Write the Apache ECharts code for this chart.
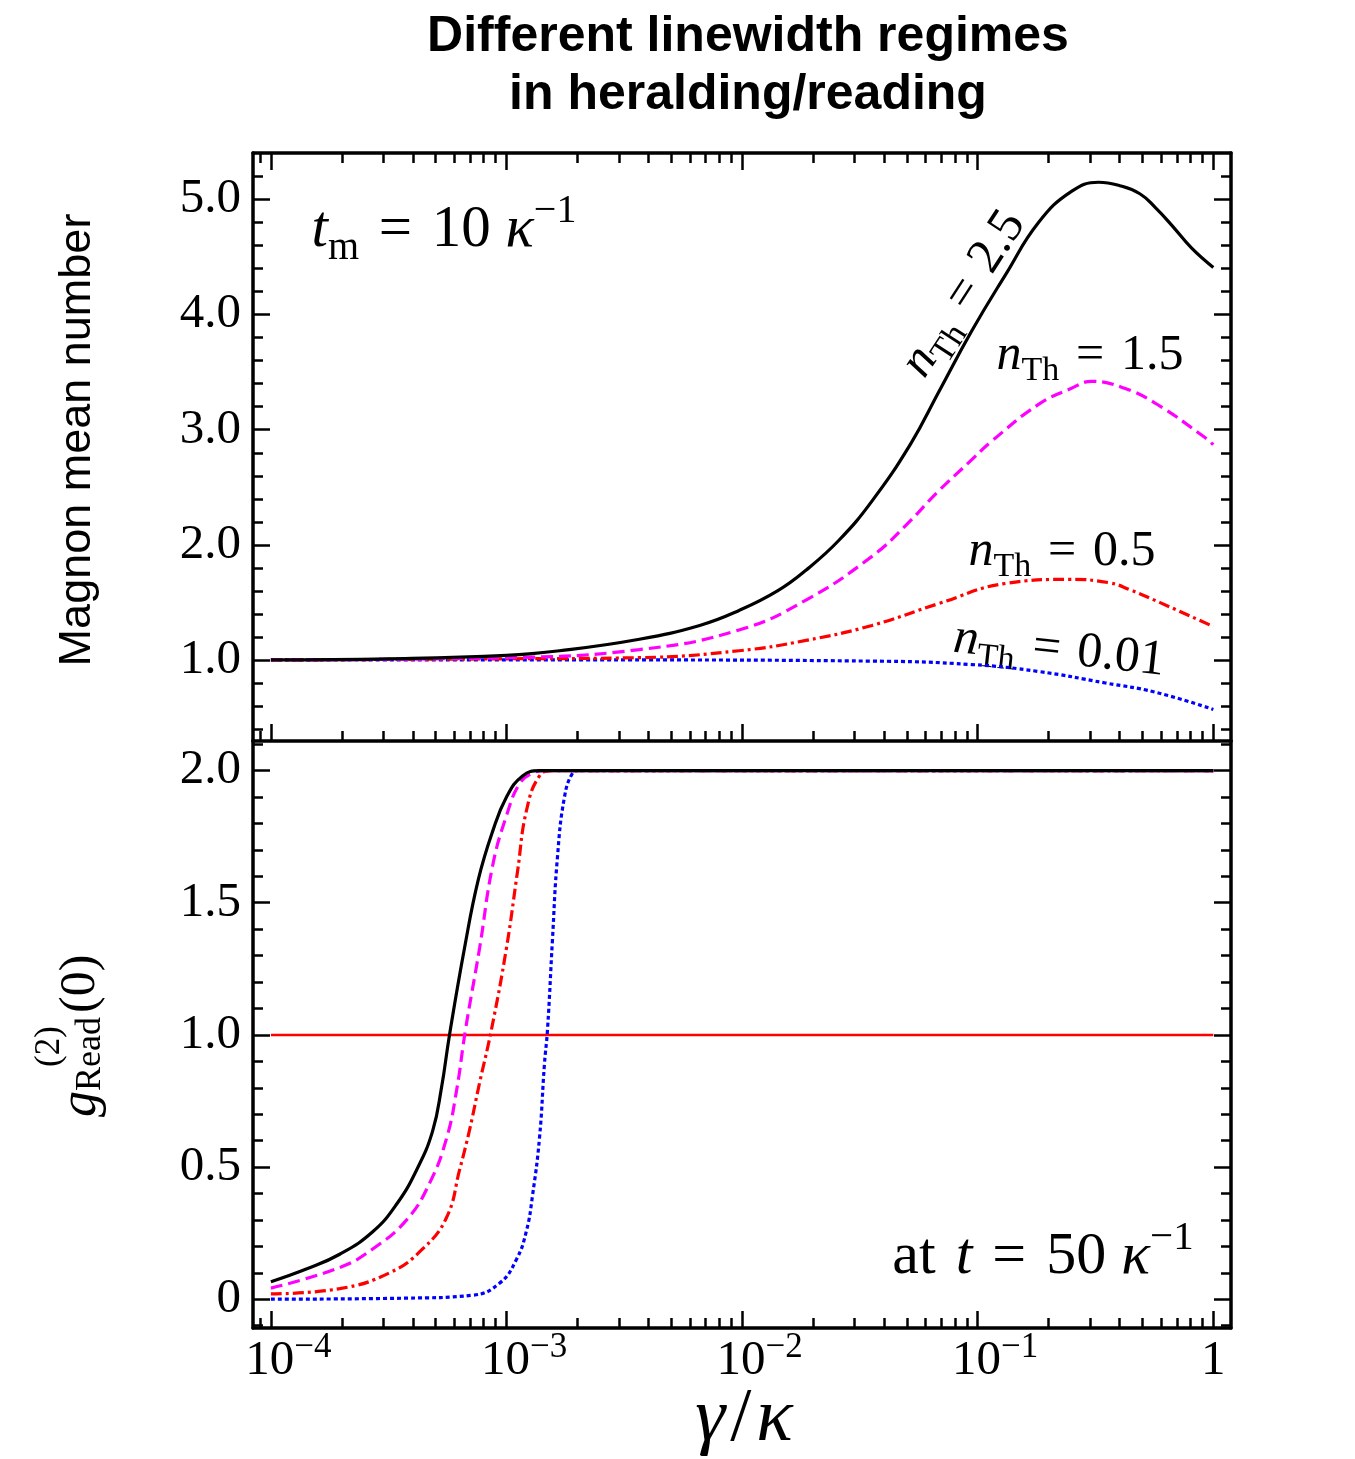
<!DOCTYPE html>
<html>
<head>
<meta charset="utf-8">
<title>Different linewidth regimes</title>
<script src="https://cdn.jsdelivr.net/npm/echarts@6/dist/echarts.min.js"></script>
<style>
html, body { margin: 0; padding: 0; background: #fff; }
#main { width: 1355px; height: 1459px; }
</style>
</head>
<body>
<div id="main"></div>
<script>
'use strict';

var SERIF = '"Liberation Serif", "DejaVu Serif", serif';
var SANS = '"Liberation Sans", Arial, sans-serif';

// x is log10(gamma / kappa) everywhere
var X_MIN = -4.076, X_MAX = 0.075;

// ticks
var xMajorTicks = [-4, -3, -2, -1, 0];
var xTickBase = ['10', '10', '10', '10', '1'];
var xTickExp = ['\u22124', '\u22123', '\u22122', '\u22121', ''];
var yTopTicks = [1, 2, 3, 4, 5];
var yTopLabels = ['1.0', '2.0', '3.0', '4.0', '5.0'];
var yBotTicks = [0, 0.5, 1, 1.5, 2];
var yBotLabels = ['0', '0.5', '1.0', '1.5', '2.0'];

// top panel : magnon mean number, t_m = 10/kappa
var nTh25TopX = [-4, -3.5, -3, -2.775, -2.436, -2.18, -2.013, -1.85, -1.729, -1.589, -1.449, -1.284, -1.165, -1.025, -0.881, -0.742, -0.602, -0.487, -0.397, -0.312, -0.246, -0.178, -0.093, 0];
var nTh25TopY = [1.0, 1.01, 1.04, 1.08, 1.18, 1.30, 1.43, 1.60, 1.78, 2.04, 2.38, 2.88, 3.33, 3.86, 4.35, 4.80, 5.07, 5.15, 5.12, 5.05, 4.93, 4.78, 4.58, 4.41];

var nTh15TopX = [-4, -3, -2.436, -2.013, -1.729, -1.449, -1.305, -1.165, -1.025, -0.941, -0.742, -0.602, -0.517, -0.390, -0.246, -0.034, 0];
var nTh15TopY = [1.0, 1.02, 1.09, 1.26, 1.52, 1.90, 2.17, 2.47, 2.74, 2.90, 3.22, 3.36, 3.42, 3.37, 3.23, 2.93, 2.87];

var nTh05TopX = [-4, -3, -2.436, -2.013, -1.729, -1.449, -1.165, -0.881, -0.61, -0.44, -0.354, -0.228, 0];
var nTh05TopY = [1.0, 1.01, 1.02, 1.08, 1.17, 1.30, 1.49, 1.665, 1.70, 1.67, 1.61, 1.50, 1.29];

var nTh001TopX = [-4, -2.5, -1.449, -1.025, -0.742, -0.458, -0.246, 0];
var nTh001TopY = [1.0, 1.0, 0.99, 0.96, 0.90, 0.80, 0.72, 0.57];

// bottom panel : g2 read at t = 50/kappa
var nTh25BotX = [-4, -3.847, -3.708, -3.568, -3.466, -3.381, -3.314, -3.276, -3.242, -3.178, -3.119, -3.059, -3.0, -2.932, -2.860, 0];
var nTh25BotY = [0.066, 0.115, 0.17, 0.255, 0.36, 0.49, 0.635, 0.80, 1.0, 1.33, 1.59, 1.77, 1.90, 1.98, 2.0, 2.0];

var nTh15BotX = [-4, -3.708, -3.568, -3.424, -3.326, -3.254, -3.212, -3.174, -3.114, -3.059, -3.0, -2.945, -2.890, -2.831, 0];
var nTh15BotY = [0.042, 0.12, 0.19, 0.30, 0.44, 0.61, 0.79, 1.02, 1.33, 1.64, 1.83, 1.95, 1.99, 2.0, 2.0];

var nTh05BotX = [-4, -3.708, -3.496, -3.356, -3.254, -3.199, -3.157, -3.114, -3.064, -3.0, -2.953, -2.915, -2.860, -2.805, 0];
var nTh05BotY = [0.02, 0.04, 0.10, 0.19, 0.31, 0.49, 0.64, 0.82, 1.02, 1.33, 1.62, 1.85, 1.98, 2.0, 2.0];

var nTh001BotX = [-4, -3.424, -3.144, -3.030, -2.958, -2.915, -2.890, -2.860, -2.839, -2.826, -2.805, -2.784, -2.754, -2.720, -2.691, 0];
var nTh001BotY = [0.0, 0.004, 0.015, 0.06, 0.15, 0.26, 0.39, 0.61, 0.89, 1.02, 1.36, 1.67, 1.90, 1.99, 2.0, 2.0];

// g2 = 1 reference
var refX = [-4, 0];
var refY = [1, 1];

// minor tick positions
var xMinorTicks = [];
for (var e = -5; e <= 0; e++) {
	for (var k = 2; k <= 9; k++) {
		var v = e + Math.log10(k);
		if (v > X_MIN && v < X_MAX) xMinorTicks.push(v);
	}
}
function minorList(lo, hi, step, majors) {
	var out = [];
	for (var v = lo; v <= hi + 1e-9; v += step) {
		var r = Math.round(v * 100) / 100;
		if (majors.indexOf(r) < 0) out.push(r);
	}
	return out;
}
var yTopMinor = minorList(0.4, 5.2, 0.2, yTopTicks);
var yBotMinor = minorList(-0.1, 2.1, 0.1, yBotTicks);

var TOP = { min: 0.296, max: 5.404 };
var BOT = { min: -0.109, max: 2.112 };

function xAxisDef(grid, pos, ticks, len, showLine, label) {
	return {
		type: 'value', gridIndex: grid, position: pos, min: X_MIN, max: X_MAX,
		axisLine: { show: showLine, onZero: false, lineStyle: { color: '#000', width: 3.5 } },
		axisTick: { show: true, inside: true, length: len, customValues: ticks, lineStyle: { color: '#000', width: 2.5 } },
		axisLabel: label || { show: false },
		splitLine: { show: false }
	};
}

function yAxisDef(grid, pos, range, ticks, len, showLine, label) {
	return {
		type: 'value', gridIndex: grid, position: pos, min: range.min, max: range.max,
		axisLine: { show: showLine, onZero: false, lineStyle: { color: '#000', width: 3.5 } },
		axisTick: { show: true, inside: true, length: len, customValues: ticks, lineStyle: { color: '#000', width: 2.5 } },
		axisLabel: label || { show: false },
		splitLine: { show: false }
	};
}

var xLabel = {
	show: true,
	customValues: xMajorTicks,
	margin: 2,
	formatter: function(val) {
		var i = xMajorTicks.indexOf(Math.round(val));
		if (i < 0) return '';
		if (!xTickExp[i]) return '{b|' + xTickBase[i] + '}';
		return '{s| }{b|' + xTickBase[i] + '}{e|' + xTickExp[i] + '}';
	},
	rich: {
		b: { fontFamily: SERIF, fontSize: 49, lineHeight: 62, color: '#000' },
		e: { fontFamily: SERIF, fontSize: 35, lineHeight: 24, verticalAlign: 'top', color: '#000' },
		s: { fontSize: 10, width: 35 }
	}
};

function yLabel(ticks, labels) {
	return {
		show: true,
		customValues: ticks,
		margin: 12,
		fontFamily: SERIF,
		fontSize: 49,
		color: '#000',
		formatter: function(val) {
			for (var i = 0; i < ticks.length; i++) {
				if (Math.abs(ticks[i] - val) < 1e-6) return labels[i];
			}
			return '';
		}
	};
}

function line(xs, ys, xi, yi, color, dash, width, z) {
	return {
		type: 'line',
		xAxisIndex: xi,
		yAxisIndex: yi,
		data: xs.map(function(x, i) { return [x, ys[i]]; }),
		showSymbol: false,
		symbol: 'none',
		smooth: 0.45,
		silent: true,
		z: z,
		lineStyle: { color: color, width: width, type: dash }
	};
}

function mathRich(fs) {
	var L = Math.round(fs * 1.3);
	return {
		r: { fontFamily: SERIF, fontSize: fs, lineHeight: L, fill: '#000' },
		i: { fontFamily: SERIF, fontStyle: 'italic', fontSize: fs, lineHeight: L, fill: '#000' },
		sl: { fontFamily: SERIF, fontSize: fs, lineHeight: L, fill: '#000', padding: [0, 5, 0, 5] },
		sub: { fontFamily: SERIF, fontSize: Math.round(fs * 0.68), lineHeight: Math.round(fs * 0.9), verticalAlign: 'bottom', fill: '#000' },
		sup: { fontFamily: SERIF, fontSize: Math.round(fs * 0.68), lineHeight: Math.round(fs * 0.7), verticalAlign: 'top', fill: '#000' }
	};
}

function mathLabel(text, x, y, fs, rot) {
	return {
		type: 'text', x: x, y: y, rotation: rot || 0, silent: true,
		style: { text: text, rich: mathRich(fs), align: 'center', verticalAlign: 'middle' }
	};
}

function piece(text, x, y, fs, italic) {
	return {
		type: 'text', x: x, y: y,
		style: { text: text, fontFamily: SERIF, fontSize: fs, fontStyle: italic ? 'italic' : 'normal', fill: '#000', align: 'left', verticalAlign: 'middle' }
	};
}

// medium space around the equals sign
var SP = '\u2004';

var chart = echarts.init(document.getElementById('main'));

var option = {
	animation: false,
	backgroundColor: '#fff',
	title: {
		text: 'Different linewidth regimes\nin heralding/reading',
		left: 743,
		top: 3,
		textAlign: 'center',
		textStyle: { fontFamily: SANS, fontWeight: 'bold', fontSize: 50, lineHeight: 58, color: '#000' }
	},
	grid: [
		{ left: 253, top: 153, width: 978, height: 588, outerBoundsMode: 'none' },
		{ left: 253, top: 741, width: 978, height: 587, outerBoundsMode: 'none' }
	],
	xAxis: [
		xAxisDef(0, 'bottom', xMajorTicks, 17, true),
		xAxisDef(0, 'bottom', xMinorTicks, 10, false),
		xAxisDef(0, 'top', xMajorTicks, 17, true),
		xAxisDef(0, 'top', xMinorTicks, 10, false),
		xAxisDef(1, 'bottom', xMajorTicks, 17, true, xLabel),
		xAxisDef(1, 'bottom', xMinorTicks, 10, false)
	],
	yAxis: [
		yAxisDef(0, 'left', TOP, yTopTicks, 17, true, yLabel(yTopTicks, yTopLabels)),
		yAxisDef(0, 'left', TOP, yTopMinor, 10, false),
		yAxisDef(0, 'right', TOP, yTopTicks, 17, true),
		yAxisDef(0, 'right', TOP, yTopMinor, 10, false),
		yAxisDef(1, 'left', BOT, yBotTicks, 17, true, yLabel(yBotTicks, yBotLabels)),
		yAxisDef(1, 'left', BOT, yBotMinor, 10, false),
		yAxisDef(1, 'right', BOT, yBotTicks, 17, true),
		yAxisDef(1, 'right', BOT, yBotMinor, 10, false)
	],
	series: [
		line(nTh001TopX, nTh001TopY, 0, 0, '#0000ff', [4, 3], 3.2, 2),
		line(nTh05TopX, nTh05TopY, 0, 0, '#ff0000', [11, 4, 3, 4], 3.2, 3),
		line(nTh15TopX, nTh15TopY, 0, 0, '#ff00ff', [12, 6], 3.2, 4),
		line(nTh25TopX, nTh25TopY, 0, 0, '#000000', 'solid', 3.2, 5),
		line(refX, refY, 4, 4, '#ff0000', 'solid', 2.5, 2),
		line(nTh001BotX, nTh001BotY, 4, 4, '#0000ff', [4, 3], 3.2, 3),
		line(nTh05BotX, nTh05BotY, 4, 4, '#ff0000', [11, 4, 3, 4], 3.2, 4),
		line(nTh15BotX, nTh15BotY, 4, 4, '#ff00ff', [12, 6], 3.2, 5),
		line(nTh25BotX, nTh25BotY, 4, 4, '#000000', 'solid', 3.2, 6)
	],
	graphic: [
		mathLabel('{i|t}{sub|m}{r|' + SP + '=' + SP + '10 }{i|\u03ba}{sup|\u22121}', 444, 230, 59),
		mathLabel('{i|n}{sub|Th}{r|' + SP + '=' + SP + '2.5}', 964, 294, 50, 57 * Math.PI / 180),
		mathLabel('{i|n}{sub|Th}{r|' + SP + '=' + SP + '1.5}', 1090, 356, 50),
		mathLabel('{i|n}{sub|Th}{r|' + SP + '=' + SP + '0.5}', 1062, 552, 50),
		mathLabel('{i|n}{sub|Th}{r|' + SP + '=' + SP + '0.01}', 1059, 650, 50, -0.11),
		mathLabel('{r|at' + SP + '}{i|t}{r|' + SP + '=' + SP + '50 }{i|\u03ba}{sup|\u22121}', 1043, 1257, 60),
		mathLabel('{i|\u03b3}{sl|/}{i|\u03ba}', 744, 1420, 76),
		{
			type: 'text', x: 78, y: 440, rotation: Math.PI / 2, silent: true,
			style: { text: 'Magnon mean number', fontFamily: SANS, fontSize: 45, fill: '#000', align: 'center', verticalAlign: 'middle' }
		},
		{
			type: 'group', x: 98, y: 1117, rotation: Math.PI / 2, silent: true,
			children: [
				piece('g', 0, -17, 52, true),
				piece('Read', 26, -7, 36, false),
				piece('(2)', 50, -48, 35, false),
				piece('(0)', 104, -17, 50, false)
			]
		}
	]
};

chart.setOption(option);
</script>
</body>
</html>
